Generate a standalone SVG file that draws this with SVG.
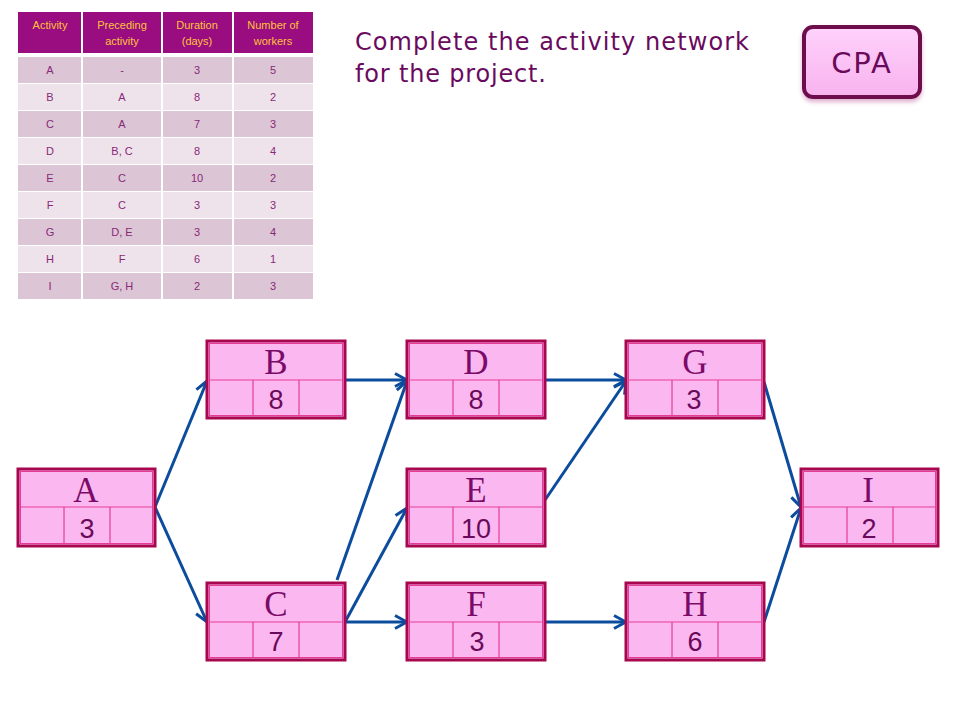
<svg xmlns="http://www.w3.org/2000/svg" width="960" height="720" viewBox="0 0 960 720">
<defs>
<style>
.hdr{fill:#9a0d80}
.th{font-family:"Liberation Sans",Arial,sans-serif;font-size:11px;fill:#ffc23a;text-anchor:middle}
.td{font-family:"Liberation Sans",Arial,sans-serif;font-size:11px;fill:#8a2878;text-anchor:middle}
.r1{fill:#dcc5d5}
.r2{fill:#efe3eb}
.box{fill:#fbb8f0;stroke:#a8064e;stroke-width:3}
.inner{fill:none;stroke:#e63c96;stroke-width:1}
.div{stroke:#e63c96;stroke-width:1.2}
.lbl{font-family:"Liberation Serif","Times New Roman",serif;font-size:35px;fill:#7c0a68;text-anchor:middle}
.num{font-family:"Liberation Sans",Arial,sans-serif;font-size:27px;fill:#6a0a5a;text-anchor:middle}
.title{font-family:"DejaVu Sans","Liberation Sans",sans-serif;font-size:24px;fill:#6a0a5e}
.arr{fill:none;stroke:#0b4c9c;stroke-width:3;marker-end:url(#ah)}
</style>
<marker id="ah" markerUnits="userSpaceOnUse" viewBox="-14 -8 16 16" refX="0" refY="0" markerWidth="16" markerHeight="16" orient="auto">
<path d="M-12,-6.5 L0,0 L-12,6.5" fill="none" stroke="#0b4c9c" stroke-width="3" stroke-linejoin="miter"/>
</marker>
<linearGradient id="cpag" x1="0" y1="0" x2="0" y2="1">
<stop offset="0" stop-color="#ffd2fb"/>
<stop offset="1" stop-color="#f8b2ee"/>
</linearGradient>
<filter id="sh" x="-20%" y="-20%" width="140%" height="150%">
<feGaussianBlur in="SourceAlpha" stdDeviation="2"/>
<feOffset dx="0" dy="3" result="b"/>
<feFlood flood-color="#c060a0" flood-opacity="0.5"/>
<feComposite in2="b" operator="in"/>
<feMerge><feMergeNode/><feMergeNode in="SourceGraphic"/></feMerge>
</filter>
</defs>
<rect width="960" height="720" fill="#ffffff"/>

<g id="table">
<rect class="hdr" x="18" y="12" width="295" height="41"/>
<rect class="r1" x="18" y="57" width="295" height="26"/>
<rect class="r2" x="18" y="84" width="295" height="26"/>
<rect class="r1" x="18" y="111" width="295" height="26"/>
<rect class="r2" x="18" y="138" width="295" height="26"/>
<rect class="r1" x="18" y="165" width="295" height="26"/>
<rect class="r2" x="18" y="192" width="295" height="26"/>
<rect class="r1" x="18" y="219" width="295" height="26"/>
<rect class="r2" x="18" y="246" width="295" height="26"/>
<rect class="r1" x="18" y="273" width="295" height="26"/>
<g stroke="#ffffff" stroke-width="2">
<line x1="82" y1="12" x2="82" y2="299"/>
<line x1="162" y1="12" x2="162" y2="299"/>
<line x1="233" y1="12" x2="233" y2="299"/>
</g>
<text class="th" x="50" y="29">Activity</text>
<text class="th" x="122" y="29">Preceding</text>
<text class="th" x="122" y="45">activity</text>
<text class="th" x="197" y="29">Duration</text>
<text class="th" x="197" y="45">(days)</text>
<text class="th" x="273" y="29">Number of</text>
<text class="th" x="273" y="45">workers</text>
<g>
<text class="td" x="50" y="74">A</text><text class="td" x="122" y="74">-</text><text class="td" x="197" y="74">3</text><text class="td" x="273" y="74">5</text>
<text class="td" x="50" y="101">B</text><text class="td" x="122" y="101">A</text><text class="td" x="197" y="101">8</text><text class="td" x="273" y="101">2</text>
<text class="td" x="50" y="128">C</text><text class="td" x="122" y="128">A</text><text class="td" x="197" y="128">7</text><text class="td" x="273" y="128">3</text>
<text class="td" x="50" y="155">D</text><text class="td" x="122" y="155">B, C</text><text class="td" x="197" y="155">8</text><text class="td" x="273" y="155">4</text>
<text class="td" x="50" y="182">E</text><text class="td" x="122" y="182">C</text><text class="td" x="197" y="182">10</text><text class="td" x="273" y="182">2</text>
<text class="td" x="50" y="209">F</text><text class="td" x="122" y="209">C</text><text class="td" x="197" y="209">3</text><text class="td" x="273" y="209">3</text>
<text class="td" x="50" y="236">G</text><text class="td" x="122" y="236">D, E</text><text class="td" x="197" y="236">3</text><text class="td" x="273" y="236">4</text>
<text class="td" x="50" y="263">H</text><text class="td" x="122" y="263">F</text><text class="td" x="197" y="263">6</text><text class="td" x="273" y="263">1</text>
<text class="td" x="50" y="290">I</text><text class="td" x="122" y="290">G, H</text><text class="td" x="197" y="290">2</text><text class="td" x="273" y="290">3</text>
</g>
</g>

<g id="title">
<text class="title" x="355" y="50" textLength="394" lengthAdjust="spacing">Complete the activity network</text>
<text class="title" x="355" y="82" textLength="191" lengthAdjust="spacing">for the project.</text>
</g>

<g id="cpa">
<rect x="804" y="27" width="116" height="70" rx="9" ry="9" fill="url(#cpag)" stroke="#6e0a4c" stroke-width="4" filter="url(#sh)"/>
<text x="862" y="73" font-family="DejaVu Sans,'Liberation Sans',sans-serif" font-size="29" fill="#6a0a5a" text-anchor="middle" letter-spacing="2">CPA</text>
</g>

<g id="connectors">
<path class="arr" d="M155,507 L207,381"/>
<path class="arr" d="M155,507 L207,622"/>
<path class="arr" d="M345,380 L407,380"/>
<path class="arr" d="M337,580 L407,381"/>
<path class="arr" d="M345,622 L407,508"/>
<path class="arr" d="M345,622 L407,622"/>
<path class="arr" d="M545,380 L626,380"/>
<path class="arr" d="M545,500 L626,381"/>
<path class="arr" d="M764,382 L801,507"/>
<path class="arr" d="M545,622 L626,622"/>
<path class="arr" d="M764,622 L801,508"/>
</g>

<g id="node-A">
<rect class="box" x="18" y="469" width="137" height="77"/>
<rect class="inner" x="20.5" y="471.5" width="132" height="72"/>
<line class="div" x1="20" y1="507" x2="153" y2="507"/>
<line class="div" x1="64" y1="507" x2="64" y2="544"/>
<line class="div" x1="110" y1="507" x2="110" y2="544"/>
<text class="lbl" x="86" y="502">A</text>
<text class="num" x="87" y="538">3</text>
</g>
<g id="node-B">
<rect class="box" x="207" y="341" width="138" height="77"/>
<rect class="inner" x="209.5" y="343.5" width="133" height="72"/>
<line class="div" x1="209" y1="380" x2="343" y2="380"/>
<line class="div" x1="253" y1="380" x2="253" y2="416"/>
<line class="div" x1="299" y1="380" x2="299" y2="416"/>
<text class="lbl" x="276" y="374">B</text>
<text class="num" x="276" y="409">8</text>
</g>
<g id="node-C">
<rect class="box" x="207" y="583" width="138" height="77"/>
<rect class="inner" x="209.5" y="585.5" width="133" height="72"/>
<line class="div" x1="209" y1="622" x2="343" y2="622"/>
<line class="div" x1="253" y1="622" x2="253" y2="658"/>
<line class="div" x1="299" y1="622" x2="299" y2="658"/>
<text class="lbl" x="276" y="616">C</text>
<text class="num" x="276" y="651">7</text>
</g>
<g id="node-D">
<rect class="box" x="407" y="341" width="138" height="77"/>
<rect class="inner" x="409.5" y="343.5" width="133" height="72"/>
<line class="div" x1="409" y1="380" x2="543" y2="380"/>
<line class="div" x1="453" y1="380" x2="453" y2="416"/>
<line class="div" x1="499" y1="380" x2="499" y2="416"/>
<text class="lbl" x="476" y="374">D</text>
<text class="num" x="476" y="409">8</text>
</g>
<g id="node-E">
<rect class="box" x="407" y="469" width="138" height="77"/>
<rect class="inner" x="409.5" y="471.5" width="133" height="72"/>
<line class="div" x1="409" y1="507" x2="543" y2="507"/>
<line class="div" x1="453" y1="507" x2="453" y2="544"/>
<line class="div" x1="499" y1="507" x2="499" y2="544"/>
<text class="lbl" x="476" y="502">E</text>
<text class="num" x="476" y="538">10</text>
</g>
<g id="node-F">
<rect class="box" x="407" y="583" width="138" height="77"/>
<rect class="inner" x="409.5" y="585.5" width="133" height="72"/>
<line class="div" x1="409" y1="622" x2="543" y2="622"/>
<line class="div" x1="453" y1="622" x2="453" y2="658"/>
<line class="div" x1="499" y1="622" x2="499" y2="658"/>
<text class="lbl" x="476" y="616">F</text>
<text class="num" x="477" y="651">3</text>
</g>
<g id="node-G">
<rect class="box" x="626" y="341" width="138" height="77"/>
<rect class="inner" x="628.5" y="343.5" width="133" height="72"/>
<line class="div" x1="628" y1="380" x2="762" y2="380"/>
<line class="div" x1="672" y1="380" x2="672" y2="416"/>
<line class="div" x1="718" y1="380" x2="718" y2="416"/>
<text class="lbl" x="695" y="374">G</text>
<text class="num" x="694" y="409">3</text>
</g>
<g id="node-H">
<rect class="box" x="626" y="583" width="138" height="77"/>
<rect class="inner" x="628.5" y="585.5" width="133" height="72"/>
<line class="div" x1="628" y1="622" x2="762" y2="622"/>
<line class="div" x1="672" y1="622" x2="672" y2="658"/>
<line class="div" x1="718" y1="622" x2="718" y2="658"/>
<text class="lbl" x="695" y="616">H</text>
<text class="num" x="695" y="651">6</text>
</g>
<g id="node-I">
<rect class="box" x="801" y="469" width="137" height="77"/>
<rect class="inner" x="803.5" y="471.5" width="132" height="72"/>
<line class="div" x1="803" y1="507" x2="936" y2="507"/>
<line class="div" x1="847" y1="507" x2="847" y2="544"/>
<line class="div" x1="893" y1="507" x2="893" y2="544"/>
<text class="lbl" x="868" y="502">I</text>
<text class="num" x="869" y="538">2</text>
</g>
</svg>
